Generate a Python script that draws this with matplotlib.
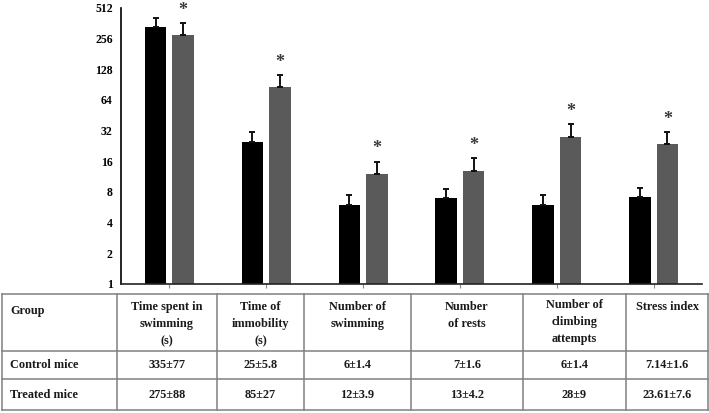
import matplotlib
matplotlib.use("Agg")
import matplotlib.pyplot as plt
import numpy as np

# ---- data ----
categories = ["Time spent in\nswimming\n(s)", "Time of\nimmobility\n(s)", "Number of\nswimming",
              "Number\nof rests", "Number of\nclimbing\nattempts", "Stress index"]
control_mean = [335, 25, 6, 7, 6, 7.14]
control_sd = [77, 5.8, 1.4, 1.6, 1.4, 1.6]
treated_mean = [275, 85, 12, 13, 28, 23.61]
treated_sd = [88, 27, 3.9, 4.2, 9, 7.6]
control_labels = ["335±77", "25±5.8", "6±1.4", "7±1.6", "6±1.4", "7.14±1.6"]
treated_labels = ["275±88", "85±27", "12±3.9", "13±4.2", "28±9", "23.61±7.6"]
significant = [True, True, True, True, True, True]
yticks = [1, 2, 4, 8, 16, 32, 64, 128, 256, 512]

W, H = 709, 413
fig = plt.figure(figsize=(W / 100, H / 100), dpi=100)
serif = "Liberation Serif"

# ---- bar chart ----
ax = fig.add_axes([121 / W, (H - 284) / H, 581 / W, 276 / H])
x = np.arange(len(categories))
bw = 0.222
off = 0.142
ax.bar(x - off, control_mean, bw, color="#000000", zorder=2)
ax.bar(x + off, treated_mean, bw, color="#5a5a5a", zorder=2)
ax.errorbar(x - off, control_mean, yerr=[np.zeros(len(x)), control_sd], fmt="none",
            ecolor="#111111", elinewidth=1.4, capsize=2, capthick=1.4, zorder=3)
ax.errorbar(x + off, treated_mean, yerr=[np.zeros(len(x)), treated_sd], fmt="none",
            ecolor="#111111", elinewidth=1.4, capsize=2, capthick=1.4, zorder=3)
for xi, m, s, sig in zip(x, treated_mean, treated_sd, significant):
    if sig:
        ax.annotate("*", (xi + off, m + s), xytext=(0, 3), textcoords="offset points",
                    ha="center", va="bottom", fontsize=13, fontweight="bold",
                    color="#3a3a3a", family=serif)

ax.set_yscale("log", base=2)
ax.set_ylim(1, 512)
ax.set_yticks(yticks)
ax.set_yticklabels([str(t) for t in yticks], family=serif, fontsize=8.5, fontweight="bold")
ax.yaxis.set_minor_locator(matplotlib.ticker.NullLocator())
ax.tick_params(axis="y", length=0, pad=6)
ax.set_xlim(-0.5, len(categories) - 0.5)
ax.set_xticks(x)
ax.set_xticklabels([])
ax.tick_params(axis="x", length=3, width=0.8, color="#888888")
for sp in ["top", "right"]:
    ax.spines[sp].set_visible(False)
ax.spines["left"].set_linewidth(1.2)
ax.spines["bottom"].set_linewidth(1.2)
ax.spines["bottom"].set_color("#222222")

# ---- table ----
col_w = [115, 100, 87, 107, 112, 103, 82]
row_h = [57, 28, 31]
tw, th = sum(col_w), sum(row_h)
tax = fig.add_axes([2 / W, (H - 410) / H, tw / W, th / H])
tax.set_xlim(0, tw)
tax.set_ylim(th, 0)
tax.axis("off")
lc = "#808080"
xs = np.concatenate([[0], np.cumsum(col_w)])
ys = np.concatenate([[0], np.cumsum(row_h)])
for xv in xs:
    tax.plot([xv, xv], [0, th], color=lc, lw=1.1, clip_on=False)
for yv in ys:
    tax.plot([0, tw], [yv, yv], color=lc, lw=1.1, clip_on=False)

fs = 8.8
kw = dict(family=serif, fontsize=fs, fontweight="bold", color="#1a1a1a")
header = ["Group"] + categories
rows = [["Control mice"] + control_labels, ["Treated mice"] + treated_labels]
for j, txt in enumerate(header):
    if j == 0:
        tax.text(xs[0] + 8, 11, txt, ha="left", va="top", **kw)
    else:
        tax.text((xs[j] + xs[j + 1]) / 2, 7 if j != 5 else 5, txt, ha="center", va="top",
                 linespacing=1.55, **kw)
for i, row in enumerate(rows):
    yc = (ys[i + 1] + ys[i + 2]) / 2
    for j, txt in enumerate(row):
        if j == 0:
            tax.text(xs[0] + 8, yc, txt, ha="left", va="center", **kw)
        else:
            tax.text((xs[j] + xs[j + 1]) / 2, yc, txt, ha="center", va="center", **kw)

fig.savefig("out.png", dpi=100)
